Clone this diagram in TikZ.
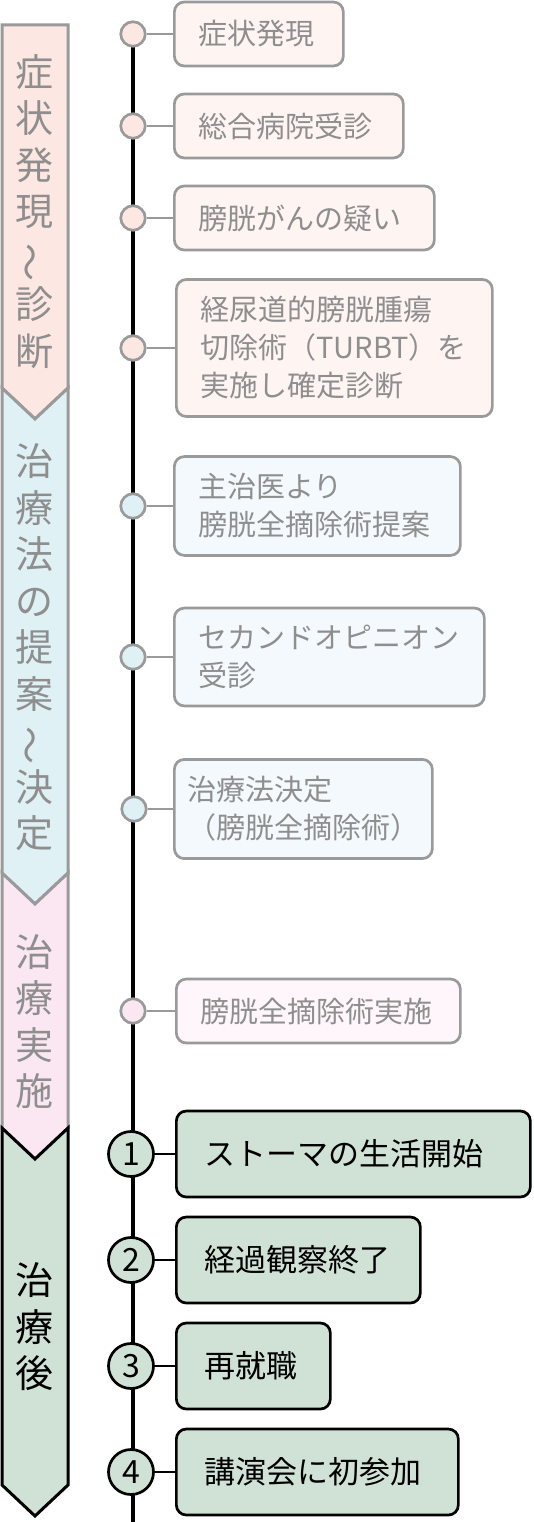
\documentclass[tikz,border=0pt]{standalone}
\usepackage{fontspec}
\setmainfont{Noto Sans CJK JP}
\usetikzlibrary{positioning}

\definecolor{frame}{HTML}{9A9A9A}
\definecolor{paletext}{HTML}{8E8E8E}
\definecolor{peach}{HTML}{FDE7E2}
\definecolor{peachbox}{HTML}{FEF4F2}
\definecolor{ice}{HTML}{DFF1F5}
\definecolor{icebox}{HTML}{F3F9FC}
\definecolor{blush}{HTML}{FBE7F2}
\definecolor{blushbox}{HTML}{FEF6FA}
\definecolor{sage}{HTML}{D0E2D6}

\begin{document}
\begin{tikzpicture}[x=1pt,y=-1pt]
    \tikzset{
    phase/.style={
        draw=frame,
        line width=3pt,
        line join=miter
    },
    phaselabel/.style={
        text=paletext,
        font=\fontsize{38}{46.5}\selectfont,
        align=center,
        inner sep=0pt
    },
    dot/.style={
        circle,
        draw=frame,
        line width=2.7pt,
        minimum size=24.5pt,
        inner sep=0pt
    },
    event/.style={
        draw=frame,
        line width=2.7pt,
        rounded corners=10pt,
        text=paletext,
        font=\fontsize{29}{38}\selectfont,
        align=left,
        inner xsep=24pt,
        inner ysep=17pt,
        minimum height=64pt,
        anchor=west
    },
    numdot/.style={
        circle,
        draw=black,
        fill=sage,
        line width=2.7pt,
        minimum size=45pt,
        inner sep=0pt,
        font=\fontsize{32}{32}\selectfont
    },
    milestone/.style={
        event,
        draw=black,
        fill=sage,
        text=black,
        font=\fontsize{31}{38}\selectfont,
        inner xsep=28pt,
        minimum height=86pt
    },
    link/.style={
        draw=frame,
        line width=2.7pt
    },
    blacklink/.style={
        draw=black,
        line width=2.7pt
    }
}
    \useasboundingbox (0,0) rectangle (533,1522);

    % phases on the left
    \draw[phase, fill=peach] (2,25) -- (68,25) -- (68,388) -- (35,419) -- (2,388) -- cycle;
    \draw[phase, fill=ice] (2,388) -- (35,419) -- (68,388) -- (68,873) -- (35,904) -- (2,873) -- cycle;
    \draw[phase, fill=blush] (2,873) -- (35,904) -- (68,873) -- (68,1128) -- (35,1159) -- (2,1128) -- cycle;
    \draw[phase, draw=black, fill=sage] (2,1128) -- (35,1159) -- (68,1128) -- (68,1485) -- (35,1516) -- (2,1485) -- cycle;

    \node[phaselabel] (ph1) at (35,211.5) {症\\状\\発\\現\\\rotatebox[origin=c]{90}{〜}\\診\\断};
    \node[phaselabel] (ph2) at (35,647.5) {治\\療\\法\\の\\提\\案\\\rotatebox[origin=c]{90}{〜}\\決\\定};
    \node[phaselabel] (ph3) at (35,1021.5) {治\\療\\実\\施};
    \node[phaselabel, text=black] (ph4) at (35,1327) {治\\療\\後};

    % timeline
    \coordinate (spinetop) at (133,34);
    \coordinate (spineend) at (133,1522);
    \draw[line width=4pt] (spinetop) -- (spineend);

    \node[dot, fill=peach] (d1) at (133,34) {};
    \node[dot, fill=peach] (d2) at (133,126) {};
    \node[dot, fill=peach] (d3) at (133,218) {};
    \node[dot, fill=peach] (d4) at (133,348) {};
    \node[dot, fill=ice] (d5) at (133,506) {};
    \node[dot, fill=ice] (d6) at (133,657) {};
    \node[dot, fill=ice] (d7) at (134,809) {};
    \node[dot, fill=blush] (d8) at (133,1011) {};

    \node[event, fill=peachbox, text width=121pt] (ev1) at (173,34) {症状発現};
    \node[event, fill=peachbox, text width=181pt] (ev2) at (173,126) {総合病院受診};
    \node[event, fill=peachbox, text width=212pt] (ev3) at (173,218) {膀胱がんの疑い};
    \node[event, fill=peachbox, text width=268pt] (ev4) at (175,348) {経尿道的膀胱腫瘍\\切除術（TURBT）を\\実施し確定診断};
    \node[event, fill=icebox, text width=238pt] (ev5) at (173,506) {主治医より\\膀胱全摘除術提案};
    \node[event, fill=icebox, text width=262pt] (ev6) at (173,657) {セカンドオピニオン\\受診};
    \node[event, fill=icebox, text width=232pt, inner xsep=13pt] (ev7) at (173,809) {治療法決定\\（膀胱全摘除術）};
    \node[event, fill=blushbox, text width=236pt] (ev8) at (175,1011) {膀胱全摘除術実施};

    \draw[link] (d1) -- (ev1);
    \draw[link] (d2) -- (ev2);
    \draw[link] (d3) -- (ev3);
    \draw[link] (d4) -- (ev4);
    \draw[link] (d5) -- (ev5);
    \draw[link] (d6) -- (ev6);
    \draw[link] (d7) -- (ev7);
    \draw[link] (d8) -- (ev8);

    % after treatment
    \node[numdot] (n1) at (131,1154) {1};
    \node[numdot] (n2) at (131,1260) {2};
    \node[numdot] (n3) at (131,1366) {3};
    \node[numdot] (n4) at (131,1472) {4};

    \node[milestone, text width=298pt] (ms1) at (175,1154) {ストーマの生活開始};
    \node[milestone, text width=188pt] (ms2) at (175,1260) {経過観察終了};
    \node[milestone, text width=98pt] (ms3) at (175,1366) {再就職};
    \node[milestone, text width=226pt] (ms4) at (175,1472) {講演会に初参加};

    \draw[blacklink] (n1) -- (ms1);
    \draw[blacklink] (n2) -- (ms2);
    \draw[blacklink] (n3) -- (ms3);
    \draw[blacklink] (n4) -- (ms4);
\end{tikzpicture}
\end{document}
